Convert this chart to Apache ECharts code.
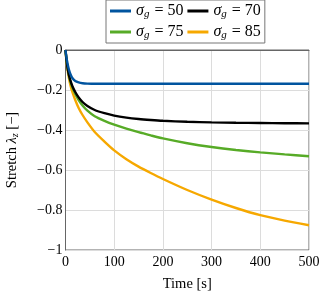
<!DOCTYPE html>
<html><head><meta charset="utf-8">
<script src="https://cdn.jsdelivr.net/npm/echarts@6/dist/echarts.min.js"></script>
<style>html,body{margin:0;padding:0;background:#fff}#c{width:325px;height:297px}</style>
</head><body><div id="c"></div>
<script>
var times = [0, 1, 2, 3, 5, 7, 10, 14, 20, 27, 35, 45, 60, 80, 100, 125, 150, 175, 200, 250, 300, 350, 400, 450, 500];
var s50 = [0, -0.02, -0.038, -0.052, -0.078, -0.098, -0.12, -0.14, -0.155, -0.162, -0.166, -0.168, -0.169, -0.169, -0.169, -0.169, -0.169, -0.169, -0.169, -0.169, -0.169, -0.169, -0.169, -0.169, -0.169];
var s70 = [0, -0.025, -0.048, -0.068, -0.1, -0.125, -0.152, -0.18, -0.21, -0.237, -0.26, -0.28, -0.3, -0.316, -0.328, -0.338, -0.345, -0.35, -0.354, -0.359, -0.362, -0.364, -0.365, -0.366, -0.367];
var s75 = [0, -0.025, -0.048, -0.068, -0.1, -0.127, -0.157, -0.187, -0.22, -0.25, -0.277, -0.303, -0.331, -0.354, -0.373, -0.393, -0.411, -0.427, -0.442, -0.466, -0.485, -0.5, -0.512, -0.522, -0.531];
var s85 = [0, -0.03, -0.055, -0.077, -0.112, -0.14, -0.175, -0.21, -0.25, -0.29, -0.325, -0.362, -0.41, -0.458, -0.502, -0.546, -0.583, -0.615, -0.645, -0.7, -0.748, -0.79, -0.826, -0.853, -0.876];
var names = ['50', '70', '75', '85'];
var colors = ['#00549f', '#000000', '#57ab27', '#f6a800'];
var xTicks = [0, 100, 200, 300, 400, 500];

var F = 'Liberation Serif';
function pairs(v) { return times.map(function (t, i) { return [t, v[i]]; }); }
var all = [s50, s70, s75, s85];
var zs = [6, 5, 4, 3];
var series = all.map(function (v, i) {
  return {
    name: names[i], type: 'line', data: pairs(v), smooth: 0.25, symbol: 'none',
    lineStyle: { color: colors[i], width: 2.4 }, itemStyle: { color: colors[i] }, z: zs[i]
  };
});
var chart = echarts.init(document.getElementById('c'), null, { renderer: 'canvas' });
chart.setOption({
  animation: false,
  grid: { left: 65.5, right: 16, top: 50, bottom: 47, show: true, borderColor: '#666', borderWidth: 1, containLabel: false, outerBoundsMode: 'none' },
  legend: {
    left: 106, top: 0, width: 162, padding: [3, 4, 2, 4], itemGap: 4,
    itemWidth: 21, itemHeight: 3, icon: 'rect',
    borderColor: '#777', borderWidth: 1,
    data: names,
    formatter: function (n) { return '{i|σ}{sub|g}{t| = ' + n + '}'; },
    textStyle: {
      fontFamily: F, fontSize: 15, color: '#000',
      rich: {
        i: { fontFamily: F, fontStyle: 'italic', fontSize: 16, height: 16 },
        sub: { fontFamily: F, fontStyle: 'italic', fontSize: 11, padding: [7, 1, 0, 0] },
        t: { fontFamily: F, fontSize: 16 }
      }
    }
  },
  xAxis: {
    type: 'value', min: xTicks[0], max: xTicks[xTicks.length - 1], interval: 100,
    name: 'Time [s]', nameLocation: 'middle', nameGap: 27,
    nameTextStyle: { fontFamily: F, fontSize: 14.5, color: '#000' },
    axisLine: { lineStyle: { color: '#666' } }, axisTick: { show: false },
    axisLabel: { fontFamily: F, fontSize: 14, color: '#000', margin: 5 },
    splitLine: { lineStyle: { color: '#dcdcdc' } }
  },
  yAxis: {
    type: 'value', min: -1, max: 0, interval: 0.2,
    name: '{n|Stretch }{i|λ}{sub|z}{n| [−]}', nameLocation: 'middle', nameGap: 45,
    nameTextStyle: {
      fontFamily: F, fontSize: 14.5, color: '#000',
      rich: {
        n: { fontFamily: F, fontSize: 14.5 },
        i: { fontFamily: F, fontStyle: 'italic', fontSize: 14.5 },
        sub: { fontFamily: F, fontStyle: 'italic', fontSize: 10, padding: [6, 0, 0, 0] }
      }
    },
    axisLine: { show: true, lineStyle: { color: '#666' } }, axisTick: { show: false },
    axisLabel: {
      fontFamily: F, fontSize: 14, color: '#000', margin: 3,
      formatter: function (v) { var r = Math.round(v * 10) / 10; return r === 0 ? '0' : String(r).replace('-', '−'); }
    },
    splitLine: { lineStyle: { color: '#dcdcdc' } }
  },
  series: series
});
</script></body></html>
